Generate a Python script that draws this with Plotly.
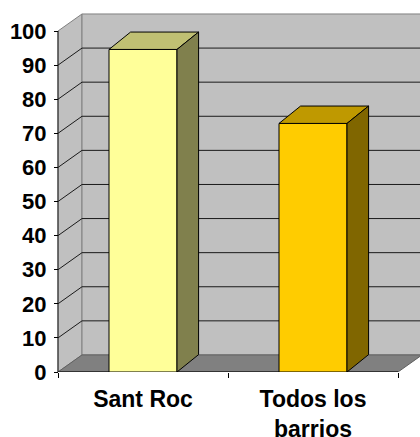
import plotly.graph_objects as go

# ---- data ----
categories = ["Sant Roc", "Todos los<br>barrios"]
values = [94.6, 72.9]
front_colors = ["#FFFF99", "#FFCC00"]
top_colors = ["#C0C073", "#BF9900"]
side_colors = ["#80804D", "#806600"]
y_ticks = list(range(0, 101, 10))

# ---- geometry (data units) ----
X_LEFT, X_RIGHT = -0.5, 1.5          # front floor edges (category units)
DX, DY = 0.1412, 5.0                 # wall depth offset
BW, BDX, BDY = 0.4, 0.127, 5.1       # bar width and depth offset
X_MIN, X_MAX = -0.8412, 1.6294
Y_MAX = 109.1
Y_TOP = 100

xs = list(range(len(categories)))

shapes = []
# left side wall
shapes.append(dict(type="path", xref="x", yref="y", layer="below",
                   path=f"M {X_LEFT},0 L {X_LEFT},{Y_TOP} L {X_LEFT+DX},{Y_TOP+DY} L {X_LEFT+DX},{DY} Z",
                   fillcolor="#C0C0C0", line=dict(color="#808080", width=1)))
# back wall
shapes.append(dict(type="rect", xref="x", yref="y", layer="below",
                   x0=X_LEFT+DX, x1=X_MAX+0.2, y0=DY, y1=Y_TOP+DY,
                   fillcolor="#C0C0C0", line=dict(color="#808080", width=1)))
# floor
shapes.append(dict(type="path", xref="x", yref="y", layer="below",
                   path=f"M {X_LEFT},0 L {X_RIGHT},0 L {X_RIGHT+DX},{DY} L {X_LEFT+DX},{DY} Z",
                   fillcolor="#808080", line=dict(color="#606060", width=1)))
# gridlines
for v in y_ticks[1:-1]:
    shapes.append(dict(type="line", xref="x", yref="y", layer="below",
                       x0=X_LEFT+DX, x1=X_MAX+0.2, y0=v+DY, y1=v+DY,
                       line=dict(color="#1a1a1a", width=1)))
    shapes.append(dict(type="line", xref="x", yref="y", layer="below",
                       x0=X_LEFT, x1=X_LEFT+DX, y0=v, y1=v+DY,
                       line=dict(color="#1a1a1a", width=1)))
# front axis lines
shapes.append(dict(type="line", xref="x", yref="y", layer="below",
                   x0=X_LEFT, x1=X_LEFT, y0=0, y1=Y_TOP,
                   line=dict(color="#202020", width=1)))
shapes.append(dict(type="line", xref="x", yref="y", layer="below",
                   x0=X_LEFT, x1=X_RIGHT, y0=0, y1=0,
                   line=dict(color="#202020", width=1.5)))

fig = go.Figure()
fig.add_trace(go.Bar(x=xs, y=values, width=BW, marker=dict(color=front_colors,
                     line=dict(color="#000000", width=1)), hoverinfo="skip"))
for c, v, tc, sc in zip(xs, values, top_colors, side_colors):
    l, r = c - BW/2, c + BW/2
    fig.add_trace(go.Scatter(x=[l, r, r+BDX, l+BDX, l], y=[v, v, v+BDY, v+BDY, v],
                             mode="lines", fill="toself", fillcolor=tc,
                             line=dict(color="#000000", width=1), hoverinfo="skip"))
    fig.add_trace(go.Scatter(x=[r, r+BDX, r+BDX, r, r], y=[0, BDY, v+BDY, v, 0],
                             mode="lines", fill="toself", fillcolor=sc,
                             line=dict(color="#000000", width=1), hoverinfo="skip"))

fig.update_layout(
    width=420, height=437,
    margin=dict(l=0, r=0, t=0, b=65, pad=0),
    paper_bgcolor="white", plot_bgcolor="white",
    showlegend=False, shapes=shapes,
    xaxis=dict(range=[X_MIN, X_MAX], tickvals=xs, ticktext=categories,
               ticks="", showgrid=False, zeroline=False, showline=False, automargin=False,
               tickfont=dict(family="Liberation Sans", size=23, color="#000000", weight="bold"),
               ticklabelstandoff=11,
               minor=dict(tickvals=[X_LEFT, 0.5, X_RIGHT], ticks="outside", ticklen=5,
                          tickcolor="#000000", tickwidth=1, showgrid=False)),
    yaxis=dict(range=[0, Y_MAX], tickvals=y_ticks, anchor="free", position=58/420,
               ticks="outside", ticklen=4, tickcolor="#000000", automargin=False,
               showgrid=False, zeroline=False, showline=False,
               tickfont=dict(family="Liberation Sans", size=22, color="#000000", weight="bold"),
               ticklabelstandoff=3),
)

fig.write_html("out.html", config={"displayModeBar": False},
               post_script="document.body.style.margin='0';document.body.style.overflow='hidden';")
